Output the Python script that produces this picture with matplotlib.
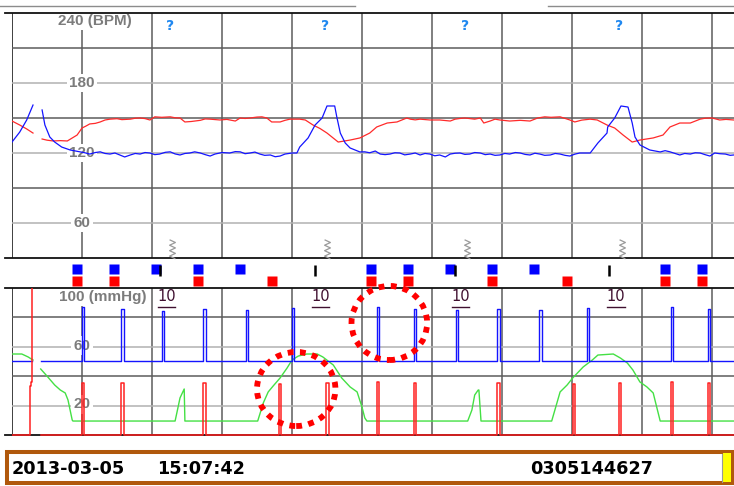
import matplotlib
matplotlib.use("Agg")
import matplotlib.pyplot as plt
from matplotlib.path import Path
from matplotlib.patches import Ellipse, Rectangle
from matplotlib.lines import Line2D
from matplotlib.transforms import Bbox, TransformedBbox

W, H = 734, 486
NAN = float('nan')

# ---------------- data (time in minutes, one grid column = 1 min) ----------------
# upper panel: fetal heart rates (BPM)
fhr_red = [(0.00,147.4),(0.11,144.0),(0.21,140.6),(0.30,137.1),(0.35,NAN),
    (0.43,132.0),(0.50,131.0),(0.59,130.3),(0.69,130.6),(0.79,130.3),(0.93,135.4),(1.00,141.4),
    (1.06,143.2),(1.11,144.9),(1.19,145.4),(1.26,146.6),(1.33,148.3),(1.40,149.0),(1.50,149.4),
    (1.57,148.6),(1.69,149.0),(1.76,149.8),(1.83,150.0),(1.90,149.5),(1.97,148.3),(2.04,151.0),
    (2.14,150.6),(2.26,151.0),(2.33,150.2),(2.40,150.0),(2.47,146.6),(2.56,147.0),(2.69,148.0),
    (2.76,149.2),(2.83,149.0),(2.97,148.3),(3.07,148.8),(3.19,147.4),(3.26,150.0),(3.33,149.6),
    (3.40,150.0),(3.50,150.8),(3.57,151.0),(3.64,150.0),(3.71,146.6),(3.83,146.6),(3.90,148.0),
    (3.97,149.0),(4.11,149.0),(4.19,148.3),(4.30,144.0),(4.40,141.0),(4.50,137.1),(4.66,129.4),
    (4.83,131.1),(4.97,132.9),(5.11,137.1),(5.21,142.3),(5.36,145.7),(5.50,146.6),(5.64,150.0),
    (5.69,149.0),(5.76,148.4),(5.83,149.0),(5.97,148.3),(6.11,148.3),(6.26,147.4),(6.33,149.0),
    (6.40,149.6),(6.47,150.0),(6.61,149.0),(6.69,150.0),(6.74,145.7),(6.83,147.4),(6.90,149.0),
    (6.97,148.3),(7.11,147.4),(7.26,148.0),(7.40,147.4),(7.51,150.0),(7.61,151.0),(7.70,150.6),
    (7.83,151.0),(7.97,148.3),(8.04,146.6),(8.14,148.2),(8.26,149.0),(8.36,148.3),(8.50,144.0),
    (8.61,141.4),(8.73,135.4),(8.86,129.4),(8.97,131.1),(9.16,132.9),(9.30,135.4),(9.40,142.3),
    (9.54,145.7),(9.69,145.7),(9.83,149.0),(9.90,149.8),(10.00,150.0),(10.11,148.3),(10.20,148.8),
    (10.31,148.3)]

fhr_blue = [(0.00,129.4),(0.11,137.9),(0.21,148.3),(0.30,161.1),(0.35,NAN),
    (0.43,156.9),(0.47,144.0),(0.54,133.7),(0.61,129.4),(0.71,125.1),(0.83,122.6),(0.97,121.0),
    (1.04,120.2),(1.11,119.1),(1.19,120.4),(1.26,121.0),(1.33,119.6),(1.40,119.1),(1.47,120.0),
    (1.54,118.3),(1.61,116.6),(1.69,118.3),(1.76,119.6),(1.83,119.1),(1.90,120.4),(1.97,120.0),
    (2.04,118.6),(2.11,119.1),(2.19,120.6),(2.26,121.0),(2.33,119.2),(2.40,118.3),(2.47,119.6),
    (2.54,120.0),(2.61,121.0),(2.69,120.0),(2.76,118.6),(2.83,117.4),(2.90,119.1),(3.00,120.4),
    (3.11,120.0),(3.19,121.2),(3.26,121.0),(3.33,119.4),(3.40,120.0),(3.47,120.8),(3.54,119.1),
    (3.61,118.0),(3.69,118.3),(3.76,116.8),(3.83,117.4),(3.90,119.1),(4.00,120.0),(4.07,120.0),
    (4.11,125.1),(4.23,132.9),(4.33,144.0),(4.43,150.0),(4.50,160.3),(4.61,160.3),(4.64,150.9),
    (4.69,137.1),(4.76,128.6),(4.83,124.3),(4.97,120.9),(5.04,121.0),(5.11,120.2),(5.19,121.7),
    (5.26,119.1),(5.33,118.6),(5.40,119.1),(5.47,120.2),(5.54,120.0),(5.61,118.4),(5.69,119.1),
    (5.76,120.0),(5.83,118.3),(5.90,119.6),(5.97,119.1),(6.04,117.6),(6.11,118.3),(6.19,116.6),
    (6.26,119.1),(6.33,119.8),(6.40,120.0),(6.47,118.8),(6.54,119.1),(6.61,120.4),(6.69,120.0),
    (6.76,118.6),(6.83,119.1),(6.90,118.0),(6.97,118.3),(7.04,119.6),(7.11,119.1),(7.19,120.4),
    (7.26,120.0),(7.33,118.8),(7.40,118.3),(7.47,119.8),(7.54,119.1),(7.61,118.0),(7.69,118.3),
    (7.76,119.6),(7.83,119.1),(7.90,118.0),(7.97,117.4),(8.04,119.0),(8.11,120.0),(8.26,120.0),
    (8.37,128.6),(8.50,137.1),(8.51,142.3),(8.61,150.0),(8.70,160.3),(8.80,159.4),(8.86,145.7),
    (8.90,133.7),(8.97,126.9),(9.11,122.6),(9.26,120.9),(9.33,122.0),(9.40,121.0),(9.47,119.6),
    (9.54,118.3),(9.61,119.6),(9.69,119.1),(9.76,120.2),(9.83,120.0),(9.90,118.6),(9.97,117.4),
    (10.04,120.0),(10.11,119.4),(10.19,119.1),(10.26,118.0),(10.31,118.3)]

question_t = [2.26, 4.47, 6.47, 8.67]
zigzag_t = [2.29, 4.50, 6.50, 8.71]

# middle band: event markers
blue_sq_t = [0.93, 1.46, 2.06, 2.66, 3.26, 5.13, 5.66, 6.26, 6.86, 7.46, 9.33, 9.86]
red_sq_t = [0.93, 1.46, 2.66, 3.71, 5.13, 5.66, 6.86, 7.93, 9.33, 9.86]
black_tick_t = [2.11, 4.33, 6.33, 8.53]

# lower panel (mmHg)
blue_base = 50.3
blue_spike_t = [1.00, 1.56, 2.14, 2.73, 3.34, 4.00, 5.21, 5.74, 6.34, 6.93, 7.53, 8.21, 9.41, 9.94]
blue_spike_v = [87.0, 85.7, 84.4, 85.7, 85.0, 86.4, 87.0, 85.7, 85.0, 85.7, 85.0, 86.4, 87.0, 85.7]
red_spike_t = [1.00, 1.56, 2.73, 3.81, 4.49, 5.21, 5.74, 6.93, 8.01, 8.67, 9.41, 9.94]
red_spike_v = [35.4, 35.4, 35.4, 34.7, 35.4, 36.1, 35.4, 35.4, 34.7, 35.4, 36.1, 35.4]
red_start = [(0.00,0.0),(0.257,0.0),(0.257,33.0),(0.271,33.0),(0.271,36.0),(0.286,36.0),(0.286,110.0)]
toco = [(0.00,55.1),(0.14,55.1),(0.23,53.1),(0.30,51.0),(0.35,NAN),
    (0.41,44.9),(0.50,40.1),(0.61,34.0),(0.69,30.6),(0.76,28.6),(0.80,23.8),(0.86,10.2),(0.87,9.5),
    (2.33,9.5),(2.37,18.4),(2.40,25.2),(2.44,29.3),(2.46,31.3),(2.47,9.5),
    (3.51,9.5),(3.59,21.8),(3.66,29.3),(3.73,33.3),(3.83,38.8),(3.93,45.6),(4.00,51.0),(4.09,53.7),
    (4.21,55.1),(4.36,55.1),(4.44,53.1),(4.59,47.6),(4.71,38.8),(4.83,32.7),(4.93,29.3),(5.00,19.0),
    (5.04,11.6),(5.07,9.5),
    (6.51,9.5),(6.57,17.0),(6.61,27.2),(6.66,30.6),(6.67,30.6),(6.70,9.5),
    (7.71,9.5),(7.83,29.3),(7.93,34.0),(8.01,38.8),(8.16,46.3),(8.29,51.0),(8.37,54.4),(8.59,55.1),
    (8.69,52.4),(8.79,49.0),(8.87,44.2),(8.97,36.1),(9.07,32.7),(9.16,28.6),(9.21,19.0),(9.26,9.5),
    (10.31,9.5)]
ten_t = [2.21, 4.41, 6.41, 8.63]

# annotations (dotted circles): centre t, centre mmHg, half-width (min), half-height (mmHg)
circles = [(5.39, 76.2, 0.54, 25.2), (4.06, 31.3, 0.56, 25.2)]

date_txt, time_txt, id_txt = "2013-03-05", "15:07:42", "0305144627"

# ---------------- figure ----------------
fig = plt.figure(figsize=(W / 100, H / 100), dpi=100)
fig.patch.set_facecolor('white')

def fx(px):
    return px / W

def fy(py):
    return 1 - py / H

T_MAX = 722 / 70
ax_top = fig.add_axes([fx(12), fy(258), 722 / W, (258 - 13) / H])
ax_mid = fig.add_axes([fx(12), fy(288), 722 / W, (288 - 258) / H])
ax_bot = fig.add_axes([fx(12), fy(435), 722 / W, (435 - 288) / H])
for ax in (ax_top, ax_mid, ax_bot):
    ax.set_xlim(0, T_MAX)
    ax.set_axis_off()
ax_top.set_ylim(30, 240)
ax_mid.set_ylim(0, 1)
ax_bot.set_ylim(0, 100)

DARK, LIGHT, GLW = '#5c5c5c', '#b2b2b2', 1.1
EXT = -7 / 722
for ax in (ax_top, ax_bot):
    for t in range(1, 11):
        ax.axvline(t, color=DARK, lw=GLW, zorder=1)
    ax.axvline(0, color='#303030', lw=1.3, zorder=1)
for v in (210, 150, 90):
    ax_top.axhline(v, color=DARK, lw=GLW, zorder=1)
for v in (180, 120, 60):
    ax_top.axhline(v, color=LIGHT, lw=GLW, zorder=1)
for v in (80, 40):
    ax_bot.axhline(v, color=DARK, lw=GLW, zorder=1)
for v in (60, 20):
    ax_bot.axhline(v, color=LIGHT, lw=GLW, zorder=1)
for ax, v in ((ax_top, 240), (ax_top, 30), (ax_bot, 100), (ax_bot, 0)):
    ax.axhline(v, xmin=EXT, xmax=1, color='#111111', lw=1.3, clip_on=False, zorder=4)

# thin gray header lines
fig.add_artist(Line2D([0, fx(355)], [fy(6), fy(6)], color='#8c8c8c', lw=1))
fig.add_artist(Line2D([fx(548), 1], [fy(6), fy(6)], color='#8c8c8c', lw=1))

LBL = dict(fontsize=11, fontweight='bold', family=['Liberation Sans', 'DejaVu Sans'],
           color='#7c7c7c', va='center', zorder=3,
           bbox=dict(boxstyle='square,pad=0.15', fc='white', ec='none'))
ax_top.text(0.66, 233.0, '240 (BPM)', ha='left', **LBL)
for v in (180, 120, 60):
    ax_top.text(1.0, v, str(v), ha='center', **LBL)
ax_bot.text(0.67, 93.9, '100 (mmHg)', ha='left', **LBL)
for v in (60, 20):
    ax_bot.text(1.0, v + 0.8, str(v), ha='center', **LBL)

# upper traces
def split(pairs):
    return [p[0] for p in pairs], [p[1] for p in pairs]

t, v = split(fhr_red)
ax_top.plot(t, v, color='#ff2a2a', lw=0.9, zorder=5)
t, v = split(fhr_blue)
ax_top.plot(t, v, color='#1414ff', lw=0.9, zorder=5)

for tq in question_t:
    ax_top.text(tq, 228.5, '?', ha='center', va='center', fontsize=10, fontweight='bold',
                color='#2088f0', zorder=5)

zz = Path([(-0.3, 1), (0.3, 0.72), (-0.3, 0.44), (0.3, 0.16), (-0.3, -0.12),
           (0.3, -0.4), (-0.3, -0.68), (0.3, -0.96)],
          [Path.MOVETO] + [Path.LINETO] * 7)
ax_top.plot(zigzag_t, [37.7] * len(zigzag_t), ls='none', marker=zz, ms=14,
            mfc='none', mec='#9a9a9a', mew=0.9, zorder=5, clip_on=False)

# middle band
ax_mid.plot(blue_sq_t, [0.633] * len(blue_sq_t), 's', ms=7, color='#0000ff', mec='none')
ax_mid.plot(red_sq_t, [0.233] * len(red_sq_t), 's', ms=7, color='#ff0000', mec='none')
ax_mid.vlines(black_tick_t, 0.40, 0.77, color='black', lw=1.8)

# lower traces
def spikes(base, ts, vs, t0, t_end, w=0.035):
    xs, ys = [t0], [base]
    for ts_, vs_ in zip(ts, vs):
        xs += [ts_, ts_, ts_ + w, ts_ + w]
        ys += [base, vs_, vs_, base]
    xs.append(t_end)
    ys.append(base)
    return xs, ys

clip_ext = TransformedBbox(Bbox([[0, -0.02], [1, 1]]), ax_bot.transAxes)

bx, by = spikes(blue_base, blue_spike_t, blue_spike_v, 0.414, T_MAX)
ax_bot.plot([0.0, 0.286], [blue_base, blue_base], color='#1414ff', lw=1.0, zorder=5)
ax_bot.plot(bx, by, color='#1414ff', lw=1.0, zorder=5)

rx, ry = spikes(0.0, red_spike_t, red_spike_v, 0.414, T_MAX)
t, v = split(red_start)
for xs, ys in ((t, v), (rx, ry)):
    ln, = ax_bot.plot(xs, ys, color='#ff2020', lw=1.1, zorder=5)
    ln.set_clip_box(clip_ext)

t, v = split(toco)
ax_bot.plot(t, v, color='#44e044', lw=1.0, zorder=4)

for tt in ten_t:
    ax_bot.text(tt, 94.3, '10', ha='center', va='center', fontsize=10.5,
                color='#401030', zorder=5)
    ax_bot.plot([tt - 0.125, tt + 0.125], [86.8, 86.8], color='#401030', lw=1.0, zorder=5)

for ct, cv, hw, hh in circles:
    ax_bot.add_patch(Ellipse((ct, cv), 2 * hw, 2 * hh, fill=False, edgecolor='#ff0000',
                             lw=4.2, linestyle=(0, (1, 1.1)), capstyle='butt',
                             zorder=6, clip_on=False))

# bottom status bar
fig.add_artist(Rectangle((fx(7), fy(483)), (732 - 7) / W, (483 - 452) / H,
                         facecolor='white', edgecolor='#b0580c', lw=2.9))
fig.add_artist(Rectangle((fx(723), fy(482)), 8 / W, 29 / H, facecolor='#ffff00',
                         edgecolor='none'))
fig.add_artist(Line2D([fx(722), fx(722)], [fy(482), fy(454)], color='#999999', lw=0.8))
BAR = dict(fontsize=12.7, fontweight='bold', family='DejaVu Sans', color='black',
           va='center', ha='left')
fig.text(fx(12), fy(469), date_txt, **BAR)
fig.text(fx(157), fy(469), time_txt, **BAR)
fig.text(fx(530), fy(469), id_txt, **BAR)

fig.savefig('out.png', dpi=100, facecolor='white')
